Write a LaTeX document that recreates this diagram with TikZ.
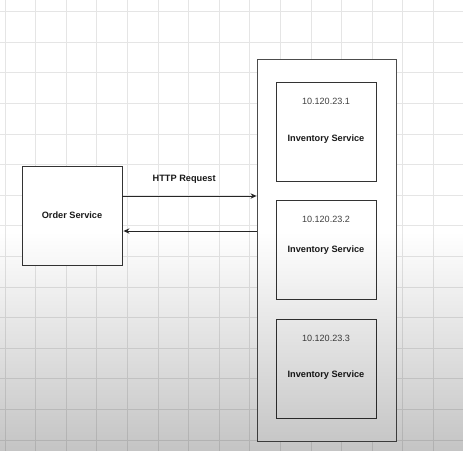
\documentclass[tikz,border=0pt]{standalone}
\usepackage{fontspec}
\setmainfont{Liberation Sans}
\usetikzlibrary{arrows,arrows.meta,calc,positioning,fadings}

\tikzset{
  svcbox/.style={draw=black!80,fill=white,line width=0.65pt,minimum width=75pt,minimum height=74.25pt,inner sep=0pt},
  holder/.style={draw=black!70,fill=white,line width=0.65pt,inner sep=0pt},
  svcname/.style={font=\fontsize{6.9}{8}\selectfont\bfseries,text=black!90,inner sep=1pt},
  iplabel/.style={font=\fontsize{6.8}{8}\selectfont,text=black!75,inner sep=1pt},
  gridline/.style={draw=black!10,line width=0.5pt}
}

\begin{document}
\begin{tikzpicture}[x=0.75pt,y=-0.75pt]
  \useasboundingbox (0,0) rectangle (463,451);
  \fill[white] (0,0) rectangle (463,451);
  % grid of the canvas
  \foreach \k in {0,...,15}
    \draw[gridline] ({5+30.6*\k},0) -- ({5+30.6*\k},451);
  \foreach \k in {0,...,14}
    \draw[gridline] (0,{11.6+30.6*\k}) -- (463,{11.6+30.6*\k});

  \node[svcbox] (order) at (72,215.5) {};
  \node[svcname] (ordername) at (order.center) {Order Service};

  \node[holder,minimum width=104.25pt,minimum height=286.5pt] (pool) at (326.5,250) {};

  \node[svcbox] (inv1) at (326,131.5) {};
  \node[iplabel] (ip1) at ($(inv1.north)+(0,19.5)$) {10.120.23.1};
  \node[svcname] (name1) at ($(inv1.center)+(0,7.5)$) {Inventory Service};

  \node[svcbox] (inv2) at (326,250) {};
  \node[iplabel] (ip2) at ($(inv2.north)+(0,19)$) {10.120.23.2};
  \node[svcname] (name2) at (inv2.center) {Inventory Service};

  \node[svcbox] (inv3) at (326,368.5) {};
  \node[iplabel] (ip3) at ($(inv3.north)+(0,19.5)$) {10.120.23.3};
  \node[svcname] (name3) at ($(inv3.center)+(0,7)$) {Inventory Service};

  \path[-{Stealth[length=4.5pt,width=4pt]},color=black!85,line width=0.65pt]
    ($(order.east)+(0,-19.5)$) edge node[svcname,above=8pt,xshift=-4pt] (req) {HTTP Request} ($(pool.west)+(0,-54)$)
    ($(pool.west)+(0,-19)$) edge ($(order.east)+(1,15.5)$);

  % darkening towards the bottom of the screen
  \fill[black,fill opacity=0.23,path fading=north] (0,232) rectangle (463,451);
\end{tikzpicture}
\end{document}
